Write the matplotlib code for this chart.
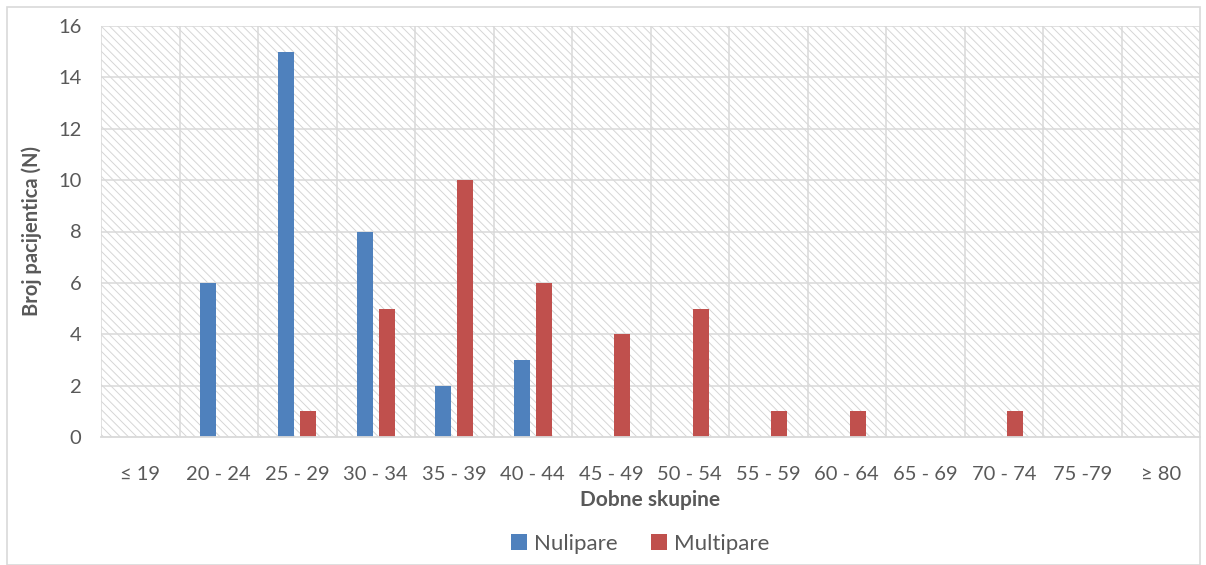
import matplotlib
matplotlib.use("Agg")
import matplotlib.pyplot as plt
import numpy as np
from matplotlib.patches import Rectangle, Patch

categories = ["≤ 19", "20 - 24", "25 - 29", "30 - 34", "35 - 39", "40 - 44", "45 - 49",
              "50 - 54", "55 - 59", "60 - 64", "65 - 69", "70 - 74", "75 -79", "≥ 80"]
nulipare = [0, 6, 15, 8, 2, 3, 0, 0, 0, 0, 0, 0, 0, 0]
multipare = [0, 0, 1, 5, 10, 6, 4, 5, 1, 1, 0, 1, 0, 0]
series_names = ["Nulipare", "Multipare"]
y_ticks = [0, 2, 4, 6, 8, 10, 12, 14, 16]

plt.rcParams['font.family'] = ['Lato', 'DejaVu Sans']
plt.rcParams['hatch.linewidth'] = 0.7
plt.rcParams['hatch.color'] = '#d6d6d6'
txt = '#595959'

fig = plt.figure(figsize=(12.06, 5.65), dpi=100)
fig.patches.append(Rectangle((7/1206, 0), 1 - 13/1206, 1 - 7/565, transform=fig.transFigure,
                             fill=False, edgecolor='#d9d9d9', linewidth=1.2))
ax = fig.add_axes([101/1206, 1 - 437/565, 1099/1206, (437 - 26)/565])

n = len(categories)
x = np.arange(n)
ax.set_xlim(-0.5, n - 0.5)
ax.set_ylim(0, 16)

# hatched background
ax.add_patch(Rectangle((-0.5, 0), n, 16, facecolor='white', edgecolor='#d6d6d6',
                       hatch='\\\\\\\\', linewidth=0, zorder=0))

for yv in y_ticks[1:]:
    ax.axhline(yv, color='#d9d9d9', linewidth=1.1, zorder=1)
for xv in np.arange(-0.5, n + 0.5, 1.0):
    ax.axvline(xv, color='#d9d9d9', linewidth=1.1, zorder=1)

w = 0.2
ax.bar(x - 0.14, nulipare, width=w, color='#4F81BD', zorder=3)
ax.bar(x + 0.14, multipare, width=w, color='#C0504D', zorder=3)

for s in ['top', 'right', 'left']:
    ax.spines[s].set_visible(False)
ax.spines['bottom'].set_color('#d9d9d9')
ax.spines['bottom'].set_linewidth(1.3)
ax.spines['bottom'].set_zorder(4)

ax.set_yticks(y_ticks)
ax.set_yticklabels([str(v) for v in y_ticks])
ax.set_xticks(x)
ax.set_xticklabels(categories)
ax.tick_params(axis='both', length=0, labelsize=14.5, labelcolor=txt)
ax.tick_params(axis='x', pad=21)
ax.tick_params(axis='y', pad=14)

ax.set_xlabel("Dobne skupine", fontsize=15, fontweight='bold', color=txt, labelpad=5)
ax.set_ylabel("Broj pacijentica (N)", fontsize=14.5, fontweight='bold', color=txt, labelpad=12)

handles = [Patch(facecolor='#4F81BD'), Patch(facecolor='#C0504D')]
fig.legend(handles, series_names, loc='center', bbox_to_anchor=(640/1206, 1 - 544/565),
           ncol=2, frameon=False, fontsize=16, labelcolor=txt, handlelength=0.75,
           handleheight=0.75, handletextpad=0.3, columnspacing=1.5)

fig.savefig("out.png", dpi=100)
